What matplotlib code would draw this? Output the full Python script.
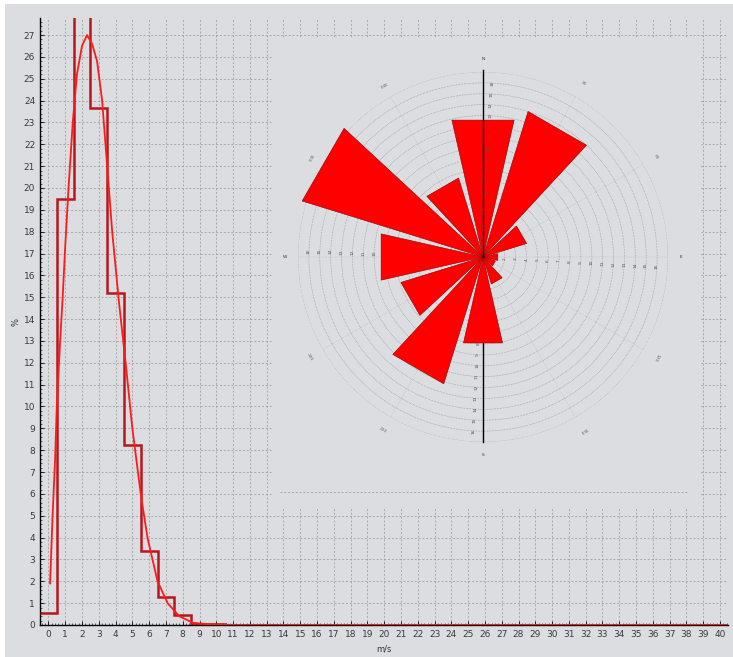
import numpy as np
import matplotlib
matplotlib.use('Agg')
import matplotlib.pyplot as plt
from matplotlib.patches import Rectangle

# wind speed histogram (% per 1 m/s bin, bins centred on 0..40)
bin_edges = np.arange(-0.5, 41.0, 1.0)
freq = [0.55, 19.5, 27.9, 23.65, 15.2, 8.25, 3.4, 1.3, 0.45, 0.06, 0.03,
        0.01, 0, 0, 0, 0, 0, 0, 0, 0, 0, 0, 0, 0, 0, 0, 0, 0, 0, 0, 0,
        0, 0, 0, 0, 0, 0, 0, 0, 0, 0]

# fitted curve
curve_x = [0.1, 0.25, 0.4, 0.5, 0.7, 0.85, 1.0, 1.2, 1.45, 1.7, 2.0, 2.3, 2.6,
           2.9, 3.2, 3.5, 3.8, 4.2, 4.6, 5.0, 5.5, 5.9, 6.5, 7.1, 7.8, 8.6,
           9.5, 11.0, 40.5]
curve_y = [1.9, 5.0, 7.6, 10.0, 13.0, 15.0, 17.3, 20.0, 23.0, 25.2, 26.5, 27.0,
           26.6, 25.8, 24.0, 21.0, 18.0, 14.8, 12.0, 9.0, 6.0, 4.0, 2.0, 1.0,
           0.4, 0.1, 0.04, 0.0, 0.0]

# wind rose (% per 30 deg sector, clockwise from north)
rose_dir = [0, 30, 60, 90, 120, 150, 180, 210, 240, 270, 300, 330]
rose_pct = [12.9, 14.0, 4.2, 1.4, 1.2, 2.6, 8.1, 12.2, 7.9, 9.6, 17.4, 7.6]
ring_labels = [str(i) for i in range(1, 17)]
angle_labels = ['30', '60', '120', '150', '210', '240', '300', '330']

bg = '#dcdde1'
grid_c = '#9a9a9a'

fig = plt.figure(figsize=(7.33, 6.57), dpi=100)
fig.patch.set_facecolor('white')
fig.patches.append(Rectangle((5/733, 0), 1, 1 - 4/657, transform=fig.transFigure,
                             facecolor=bg, edgecolor='none', zorder=-10))

#==========================================================================
# main histogram axes
ax = fig.add_axes([40/733, 32/657, 688.4/733, 607/657])
ax.set_facecolor(bg)
ax.stairs(freq, bin_edges, baseline=None, color='#b8161a', lw=1.8, zorder=3)
ax.plot(curve_x, curve_y, color='#ff1a1a', lw=1.3, zorder=4)
ax.set_xlim(-0.5, 40.5)
ax.set_ylim(0, 27.78)
ax.set_xticks(range(0, 41))
ax.set_yticks(range(0, 28))
ax.set_xticks(np.arange(-0.4, 40.5, 0.2), minor=True)
ax.set_yticks(np.arange(0, 27.8, 0.2), minor=True)
ax.tick_params(axis='both', which='major', labelsize=6.5, labelcolor='#3a3a3a',
               length=3, width=0.6, direction='in')
ax.tick_params(axis='both', which='minor', length=1.5, width=0.4, direction='in')
ax.grid(True, which='major', color=grid_c, ls=(0, (2.5, 2.5)), lw=0.55)
ax.spines[['top', 'right']].set_visible(False)
ax.spines['left'].set_linewidth(1.0)
ax.spines['bottom'].set_linewidth(1.0)
ax.set_xlabel('m/s', fontsize=6, color='#333333', labelpad=4)
ax.set_ylabel('%', fontsize=6, color='#333333', labelpad=2)

#==========================================================================
# inset panel that hides the grid behind the rose
ax_bg = fig.add_axes([272/733, 149/657, 428/733, 470/657])
ax_bg.set_facecolor(bg)
ax_bg.set_xticks([])
ax_bg.set_yticks([])
ax_bg.spines[['top', 'right', 'left', 'bottom']].set_visible(False)
ax_bg.plot([0.019, 0.972], [0.034, 0.034], transform=ax_bg.transAxes,
           color=grid_c, ls=(0, (2.5, 2.5)), lw=0.55)

# wind rose
axr = fig.add_axes([298/733, 215/657, 370/733, 370/657], projection='polar')
axr.set_theta_zero_location('N')
axr.set_theta_direction(-1)
axr.set_facecolor('none')
axr.set_rlim(0, 17)
axr.set_rticks(range(1, 18))
axr.set_yticklabels([])
axr.set_xticks(np.radians(np.arange(0, 360, 30)))
axr.set_xticklabels([])
axr.yaxis.grid(True, color='#8a8a8a', ls=(0, (1, 1.5)), lw=0.45)
axr.xaxis.grid(True, color='#a8a8a8', ls=(0, (1, 2)), lw=0.35)
axr.spines['polar'].set_visible(False)

half = np.radians(12.8)
for d, p in zip(rose_dir, rose_pct):
    t = np.radians(d)
    axr.fill([t, t - half, t + half, t], [0, p, p, 0], color='#ff0000',
             ec='#8b0000', lw=0.4, clip_on=False, zorder=5)

axr.plot([0, 0], [0, 17.2], color='black', lw=1.0, zorder=6, clip_on=False)
axr.plot([np.pi, np.pi], [0, 17.0], color='black', lw=1.0, zorder=4, clip_on=False)

for i, lab in enumerate(ring_labels):
    r = i + 1
    axr.text(np.radians(3), r, lab, fontsize=3.2, color='#555555', rotation=90,
             ha='center', va='center', zorder=7)
    axr.text(np.radians(93), r, lab, fontsize=3.2, color='#555555', rotation=90,
             ha='center', va='center', zorder=3)
    axr.text(np.radians(183), r, lab, fontsize=3.2, color='#555555', rotation=90,
             ha='center', va='center', zorder=3)
    axr.text(np.radians(272), r, lab, fontsize=3.2, color='#555555', rotation=90,
             ha='center', va='center', zorder=3)

for lab in angle_labels:
    a = int(lab)
    rot = -a if a <= 180 else 180 - a
    axr.text(np.radians(a), 18.4, lab, fontsize=3.2, color='#666666',
             rotation=rot, ha='center', va='center')
for a, lab in zip([0, 90, 180, 270], ['N', 'E', 'S', 'W']):
    axr.text(np.radians(a), 18.2, lab, fontsize=3.2, color='#333333',
             ha='center', va='center')

plt.savefig('out.png', dpi=100, facecolor=fig.get_facecolor())
